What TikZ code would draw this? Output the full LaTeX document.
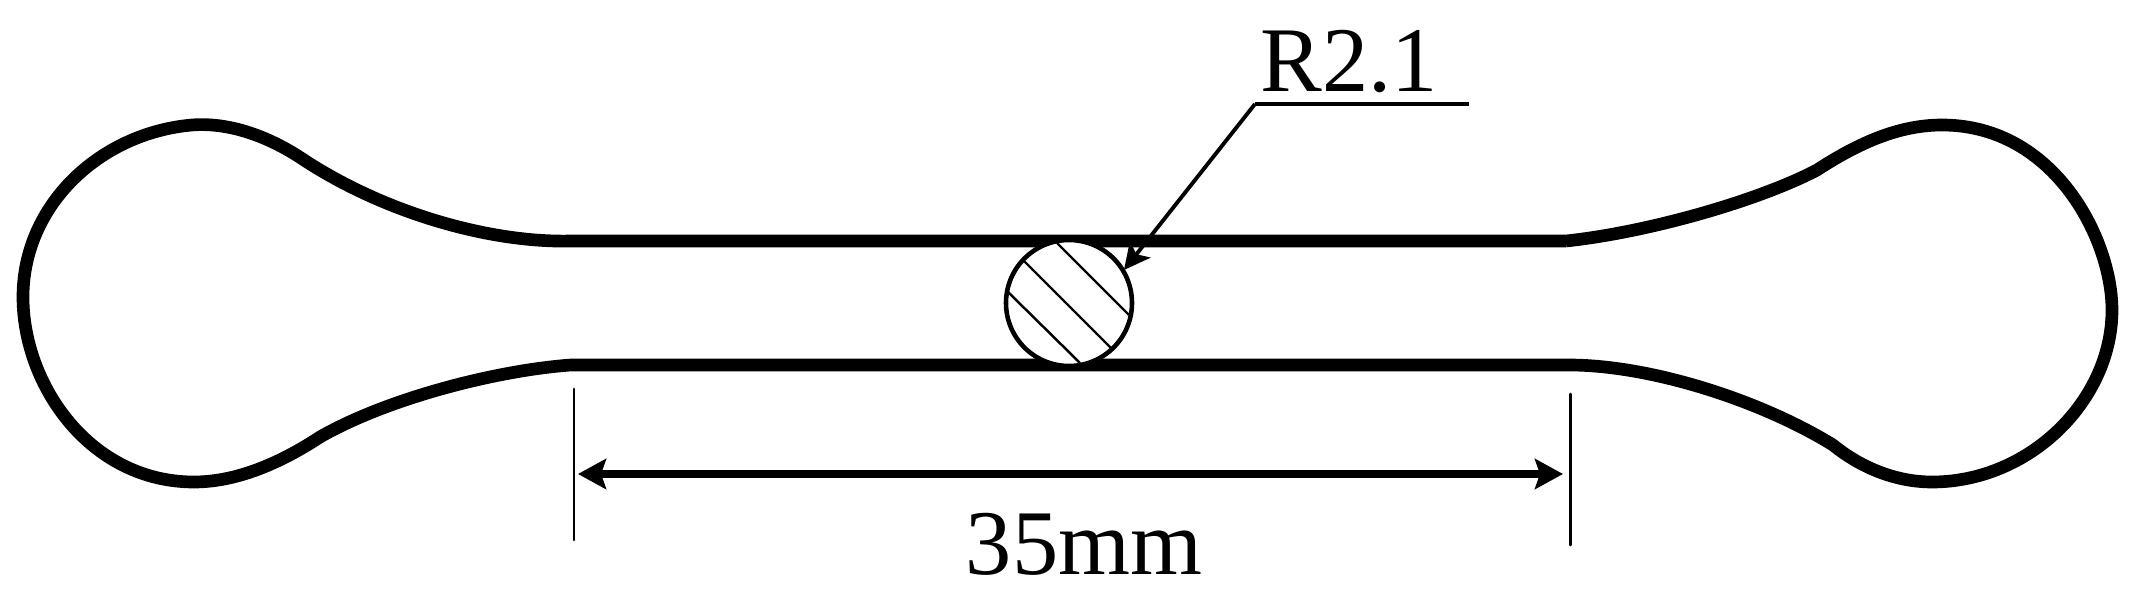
\documentclass[tikz,border=0pt]{standalone}
\usepackage{fontspec}
\usepackage{xcolor}
\setmainfont{Liberation Serif}
\newfontfamily\timesface{Liberation Serif}
\usetikzlibrary{arrows.meta}
\definecolor{ink}{HTML}{000000}
\tikzset{
  outline/.style={draw=ink, line width=3.6pt, line cap=butt, line join=round},
  thin/.style={draw=ink, line width=0.85pt, line cap=round},
  hatchline/.style={draw=ink, line width=0.7pt},
  ring/.style={draw=ink, line width=1.3pt, fill=white},
  leader/.style={draw=ink, line width=1.1pt},
  dimline/.style={draw=ink, line width=2pt},
  lab/.style={text=ink, inner sep=0pt, anchor=base, font=\timesface\fontsize{26.3}{30}\selectfont},
}

\begin{document}
\begin{tikzpicture}[x=0.01cm, y=-0.01cm]
\useasboundingbox (0,0) rectangle (2141,600);

% specimen outline
\draw[outline] (1566,241) -- (571,241)
  .. controls (490,243) and (385,213) .. (304,160)
  .. controls (270,137) and (230,122) .. (192,125)
  .. controls (100,133) and (23,205) .. (23,297)
  .. controls (23,385) and (90,482) .. (194,482)
  .. controls (240,482) and (285,460) .. (320,437)
  .. controls (390,397) and (500,370) .. (571,365)
  -- (1569,365)
  .. controls (1650,365) and (1760,400) .. (1833,445)
  .. controls (1860,467) and (1895,482) .. (1932,482)
  .. controls (2030,482) and (2112,400) .. (2112,310)
  .. controls (2112,240) and (2055,125) .. (1942,125)
  .. controls (1900,125) and (1860,142) .. (1817,170)
  .. controls (1760,200) and (1650,232) .. (1566,241);

% section circle
\draw[ring] (1069,303) circle (63);
\foreach \a/\b/\c/\d in {1057/243/1129/315, 1024/261/1111/348, 1007/291/1080/363}{
  \draw[hatchline] (\a,\b) -- (\c,\d);
}

% radius callout
\coordinate (tail) at (1469,104);
\coordinate (knee) at (1255,104);
\coordinate (tip) at (1124,270);
\draw[leader] (tail) -- (knee);
\draw[leader, -{Stealth[length=2.6mm, width=2.6mm, inset=0.6mm]}] (knee) -- (tip);
\node[lab] (radius) at (1349,91) {R2.1};

% length dimension
\coordinate (extL) at (574,389);
\coordinate (extLb) at (574,540);
\coordinate (extR) at (1570,394);
\coordinate (extRb) at (1570,545);
\draw[thin] (extL) -- (extLb);
\draw[thin] (extR) -- (extRb);
\coordinate (dimL) at (578,474);
\coordinate (dimR) at (1563,474);
\draw[dimline, {Stealth[length=2.8mm, width=3mm, inset=0.5mm]}-{Stealth[length=2.8mm, width=3mm, inset=0.5mm]}] (dimL) -- (dimR);
\node[lab] (length) at (1084,574) {35mm};
\end{tikzpicture}
\end{document}
